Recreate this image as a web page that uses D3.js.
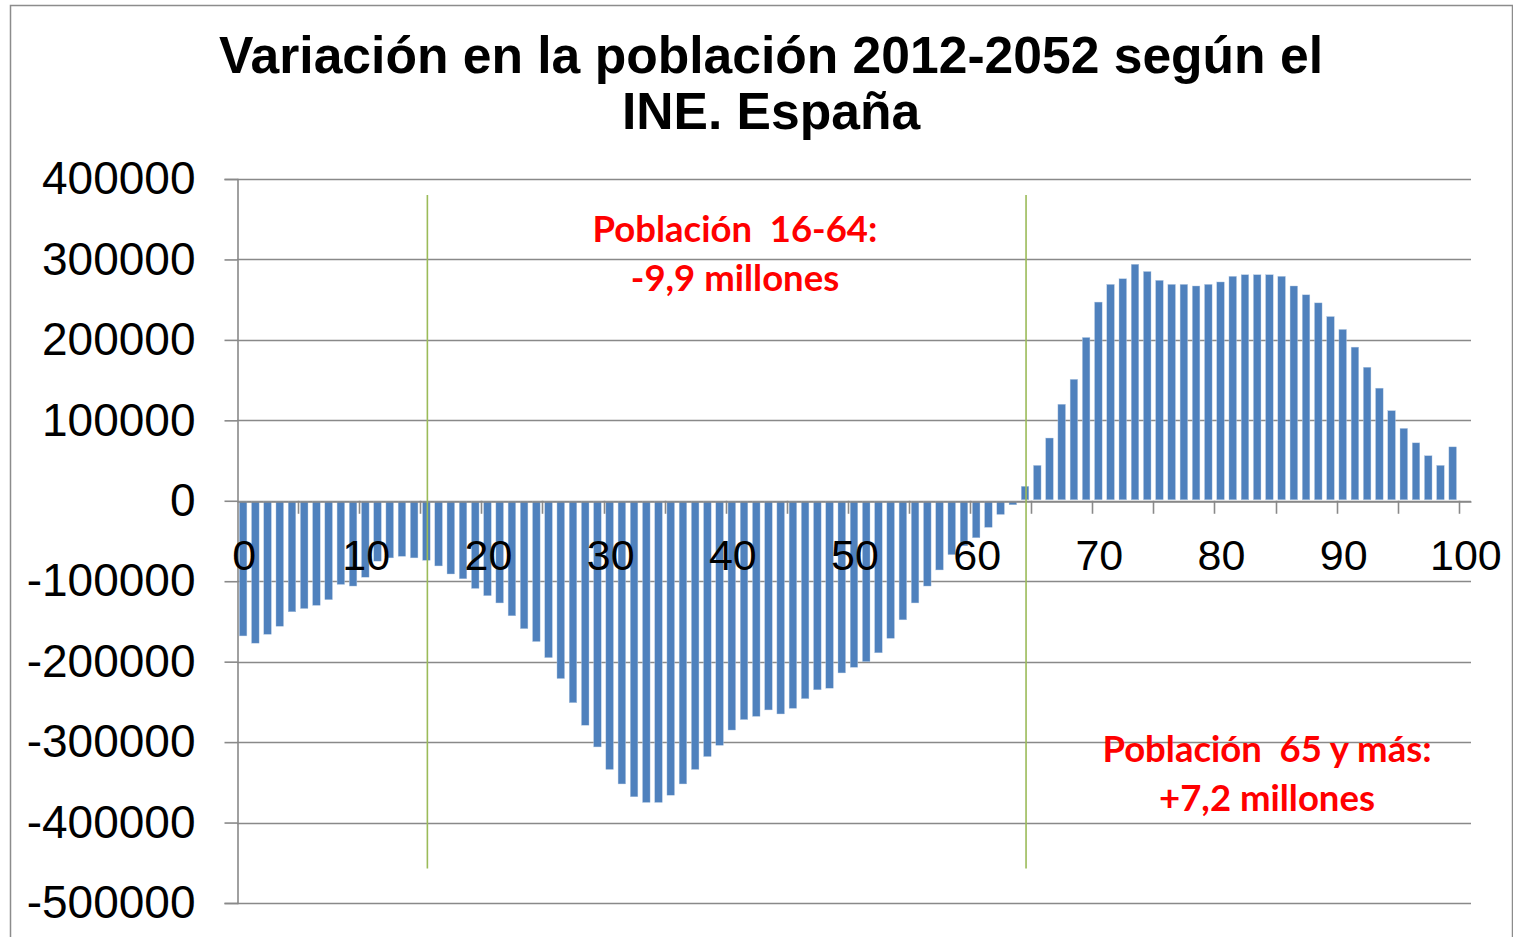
<!DOCTYPE html>
<html>
<head>
<meta charset="utf-8">
<script src="https://cdn.jsdelivr.net/npm/d3@7/dist/d3.min.js"></script>
<style>
  html, body { margin: 0; padding: 0; background: #fff; }
  svg { display: block; }
</style>
</head>
<body>
<svg id="chart" width="1513" height="937"></svg>
<script>
// ---- Data ----
const titleLines = ["Variación en la población 2012-2052 según el", "INE. España"];
const ages = d3.range(0, 101);           // categories 0..100
const xTickLabels = [0, 10, 20, 30, 40, 50, 60, 70, 80, 90, 100];
const yTickValues = [400000, 300000, 200000, 100000, 0, -100000, -200000, -300000, -400000, -500000];
// Variation 2012-2052 by age (ages 0..99)
const variation = [
  -168000, -177000, -166000, -156000, -138000, -134000, -130000, -123000, -104000, -106000,
  -95000, -75000, -71000, -69000, -71000, -74000, -81000, -91000, -97000, -109000,
  -118000, -127000, -143000, -159000, -175000, -195000, -221000, -251000, -279000, -306000,
  -334000, -352000, -368000, -375000, -375000, -366000, -352000, -334000, -318000, -304000,
  -285000, -272000, -268000, -260000, -265000, -258000, -246000, -235000, -233000, -214000,
  -207000, -200000, -189000, -171000, -148000, -127000, -106000, -86000, -67000, -56000,
  -46000, -33000, -17000, -5000, 18000, 44000, 78000, 120000, 151000, 203000,
  247000, 269000, 276000, 294000, 285000, 274000, 269000, 269000, 267000, 269000,
  272000, 279000, 281000, 281000, 281000, 279000, 267000, 256000, 246000, 229000,
  213000, 191000, 166000, 140000, 112000, 90000, 72000, 56000, 44000, 67000
];
const groupBoundaryAges = [15, 64];
const annotations = [
  { lines: ["Población  16-64:", "-9,9 millones"] },
  { lines: ["Población  65 y más:", "+7,2 millones"] }
];

// ---- Layout ----
const svg = d3.select("#chart");
const plot = { left: 237, right: 1471, top: 179, bottom: 903 };
const barColor = "#4F81BD";
const gridColor = "#898989";

// chart border
svg.append("rect")
  .attr("x", 10.5).attr("y", 5.5)
  .attr("width", 1502).attr("height", 960)
  .attr("fill", "none").attr("stroke", "#8c8c8c").attr("stroke-width", 1.5);

const pad = 0.38;
const x = d3.scaleBand().domain(ages).range([plot.left, plot.right])
  .paddingInner(pad).paddingOuter(pad / 2);
const y = d3.scaleLinear().domain([-500000, 400000]).range([plot.bottom, plot.top]);
const step = x.step();

// gridlines
svg.append("g").selectAll("line").data(yTickValues).join("line")
  .attr("x1", plot.left).attr("x2", plot.right)
  .attr("y1", d => Math.round(y(d)) + 0.5).attr("y2", d => Math.round(y(d)) + 0.5)
  .attr("stroke", gridColor).attr("stroke-width", 1.6);

// bars
svg.append("g").selectAll("rect").data(variation).join("rect")
  .attr("x", (d, i) => x(ages[i]))
  .attr("width", x.bandwidth())
  .attr("y", d => d >= 0 ? y(d) : y(0) + 1)
  .attr("height", d => Math.max(0, Math.abs(y(d) - y(0)) - 1))
  .attr("fill", barColor)
  .attr("stroke", "#b8cce4").attr("stroke-width", 0.4);

// y axis
const yAxis = d3.axisLeft(y).tickValues(yTickValues).tickSize(13).tickPadding(29)
  .tickFormat(d => String(d));
const gy = svg.append("g").attr("transform", `translate(${plot.left + 0.5},0)`).call(yAxis);
gy.select(".domain").attr("stroke", gridColor).attr("stroke-width", 1.6);
gy.selectAll(".tick line").attr("stroke", gridColor).attr("stroke-width", 1.6);
gy.selectAll(".tick text")
  .attr("font-family", "'Liberation Sans', Arial, sans-serif")
  .attr("font-size", 46).attr("fill", "#000");

// x axis (labels + tick marks at every 5 category boundaries)
const xAxis = d3.axisBottom(x).tickValues(xTickLabels).tickSize(0).tickSizeOuter(0)
  .tickFormat(d => String(d));
const gx = svg.append("g").attr("transform", `translate(0,${Math.round(y(0)) + 0.5})`).call(xAxis);
gx.select(".domain").attr("stroke", gridColor).attr("stroke-width", 1.6);
gx.selectAll(".tick text")
  .attr("font-family", "'Liberation Sans', Arial, sans-serif")
  .attr("font-size", 43).attr("fill", "#000")
  .attr("y", 68).attr("dy", null);
gx.selectAll(".tick").attr("transform", d => `translate(${x(d) + x.bandwidth() / 2 + 1},0)`);

const boundaryCats = d3.range(5, 101, 5);
svg.append("g").selectAll("line").data(boundaryCats).join("line")
  .attr("x1", d => Math.round(x(d) - step * pad / 2) + 0.5)
  .attr("x2", d => Math.round(x(d) - step * pad / 2) + 0.5)
  .attr("y1", y(0)).attr("y2", y(0) + 13)
  .attr("stroke", gridColor).attr("stroke-width", 1.6);

// green group separators
svg.append("g").selectAll("line").data(groupBoundaryAges).join("line")
  .attr("x1", d => x(d) + x.bandwidth() / 2 + 1)
  .attr("x2", d => x(d) + x.bandwidth() / 2 + 1)
  .attr("y1", y(380000)).attr("y2", y(-457000))
  .attr("stroke", "#9BBB59").attr("stroke-width", 1.6);

// title
svg.append("text")
  .attr("font-family", "'Liberation Sans', Arial, sans-serif")
  .attr("font-weight", "bold").attr("font-size", 51.6).attr("fill", "#000")
  .attr("text-anchor", "middle")
  .selectAll("tspan").data(titleLines).join("tspan")
  .attr("x", 771).attr("y", (d, i) => 73 + i * 56)
  .text(d => d);

// annotations
const annPos = [{ cx: 735, y: 242 }, { cx: 1267, y: 762 }];
annotations.forEach((a, k) => {
  svg.append("text")
    .attr("font-family", "Lato, 'Open Sans', sans-serif")
    .attr("font-weight", "bold").attr("font-size", 36.5).attr("fill", "#FF0000")
    .attr("text-anchor", "middle")
    .style("white-space", "pre")
    .selectAll("tspan").data(a.lines).join("tspan")
    .attr("x", annPos[k].cx).attr("y", (d, i) => annPos[k].y + i * 49)
    .text(d => d);
});
</script>
</body>
</html>
